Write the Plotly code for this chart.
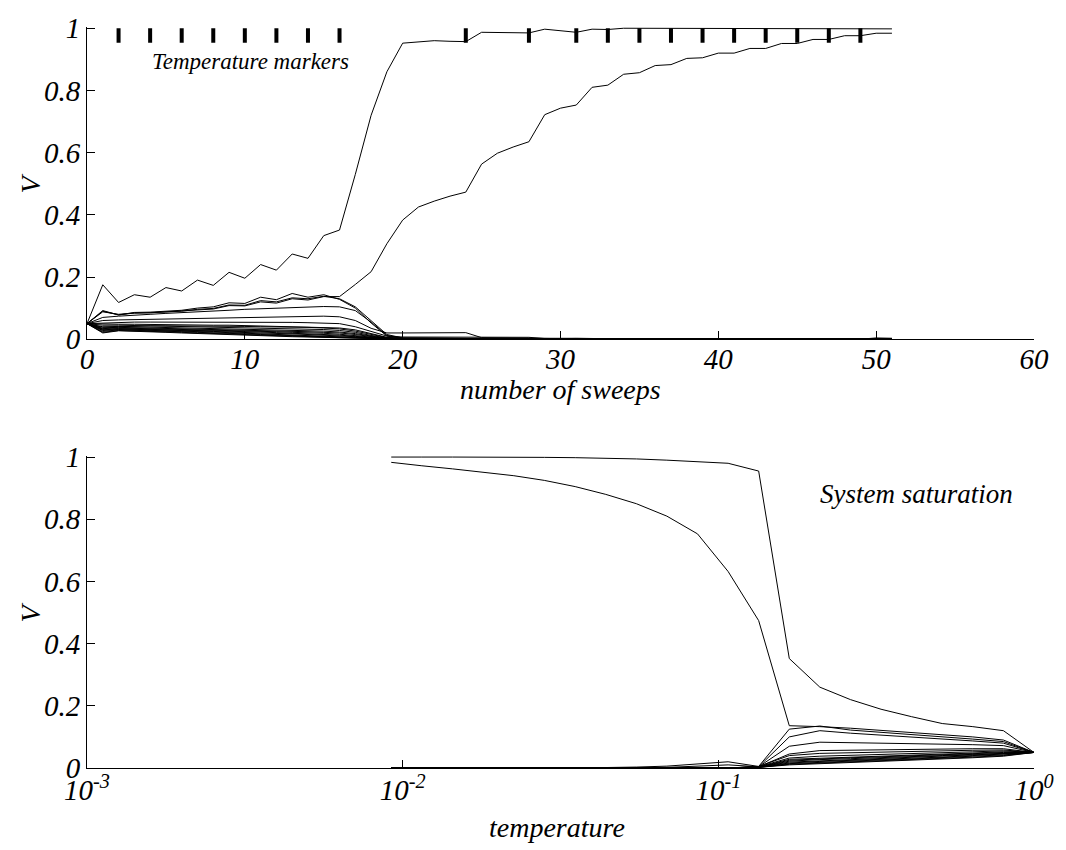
import plotly.graph_objects as go

# ---------------- top panel data (V vs number of sweeps) ----------------
SWEEPS_FULL = list(range(52))
CURVE_A = [0.05, 0.175, 0.118, 0.143, 0.135, 0.166, 0.155, 0.19, 0.173, 0.215,
           0.196, 0.24, 0.222, 0.274, 0.26, 0.333, 0.351, 0.53, 0.72, 0.86,
           0.952, 0.957, 0.96, 0.958, 0.957, 0.987, 0.986, 0.985, 0.985, 0.997,
           0.992, 0.987, 0.997, 0.996, 1.0, 1.0, 1.0, 1.0, 1.0, 1.0,
           1.0, 1.0, 1.0, 1.0, 1.0, 1.0, 1.0, 1.0, 1.0, 1.0,
           0.999, 0.998]
CURVE_B = [0.05, 0.09, 0.078, 0.084, 0.085, 0.088, 0.09, 0.095, 0.097, 0.108,
           0.107, 0.12, 0.116, 0.13, 0.126, 0.137, 0.137, 0.176, 0.217, 0.307,
           0.383, 0.425, 0.444, 0.46, 0.473, 0.563, 0.598, 0.618, 0.635, 0.722,
           0.743, 0.753, 0.81, 0.817, 0.852, 0.857, 0.88, 0.883, 0.903, 0.905,
           0.92, 0.92, 0.935, 0.935, 0.951, 0.951, 0.964, 0.964, 0.976, 0.976,
           0.984, 0.984]

SWEEPS_GRID = [0, 1, 2, 3, 4, 5, 6, 7, 8, 9, 10, 11, 12, 13, 14, 15, 16, 17, 18, 19, 20,
               24, 25, 28, 29, 31, 35, 49, 50, 51]
TAIL0 = [0, 0, 0, 0, 0, 0, 0, 0, 0]
SWEEP_CLUSTER = [
    [0.05, 0.092, 0.078, 0.086, 0.087, 0.091, 0.093, 0.1, 0.104, 0.117, 0.115, 0.135, 0.127, 0.147, 0.135, 0.143, 0.128, 0.1, 0.052, 0.01, 0.003] + [0.002, 0.001, 0, 0, 0, 0, 0, 0, 0],
    [0.05, 0.088, 0.08, 0.084, 0.085, 0.088, 0.09, 0.096, 0.099, 0.11, 0.109, 0.124, 0.12, 0.133, 0.13, 0.138, 0.13, 0.104, 0.06, 0.015, 0.004] + [0.003, 0.001, 0, 0, 0, 0, 0, 0, 0],
    [0.05, 0.07, 0.074, 0.078, 0.08, 0.083, 0.085, 0.088, 0.09, 0.093, 0.096, 0.098, 0.1, 0.102, 0.104, 0.105, 0.104, 0.092, 0.055, 0.012, 0.003] + [0.002, 0.001, 0, 0, 0, 0, 0, 0, 0],
    [0.05, 0.06, 0.062, 0.063, 0.064, 0.064, 0.065, 0.066, 0.066, 0.067, 0.068, 0.069, 0.07, 0.071, 0.073, 0.074, 0.072, 0.06, 0.035, 0.02, 0.02] + [0.021, 0.005, 0.003, 0.001, 0.002, 0, 0, 0.004, 0.003],
    [0.05, 0.052, 0.054, 0.055, 0.055, 0.055, 0.055, 0.056, 0.056, 0.056, 0.056, 0.055, 0.055, 0.054, 0.053, 0.052, 0.05, 0.04, 0.025, 0.01, 0.007] + [0.007, 0.007, 0.006, 0.002, 0.003, 0, 0, 0, 0],
    [0.05, 0.048, 0.048, 0.048, 0.047, 0.047, 0.046, 0.046, 0.045, 0.045, 0.044, 0.043, 0.042, 0.041, 0.04, 0.039, 0.036, 0.03, 0.018, 0.006, 0.003] + [0.002, 0.001, 0, 0, 0.001, 0, 0, 0, 0],
    [0.05, 0.033, 0.04, 0.042, 0.043, 0.043, 0.043, 0.043, 0.042, 0.042, 0.041, 0.04, 0.04, 0.039, 0.038, 0.036, 0.033, 0.026, 0.015, 0.005, 0.003] + [0.002, 0.001, 0, 0, 0, 0, 0, 0, 0],
    [0.05, 0.045, 0.045, 0.044, 0.043, 0.042, 0.041, 0.04, 0.039, 0.038, 0.037, 0.036, 0.035, 0.034, 0.032, 0.031, 0.028, 0.022, 0.012, 0.004, 0.002] + [0.001, 0.001, 0, 0, 0, 0, 0, 0, 0],
    [0.05, 0.04, 0.041, 0.04, 0.039, 0.038, 0.037, 0.036, 0.035, 0.034, 0.033, 0.032, 0.031, 0.029, 0.028, 0.026, 0.023, 0.018, 0.01, 0.003, 0.001] + TAIL0,
    [0.05, 0.038, 0.038, 0.037, 0.036, 0.035, 0.034, 0.033, 0.032, 0.03, 0.029, 0.028, 0.027, 0.025, 0.024, 0.022, 0.02, 0.015, 0.008, 0.002, 0.001] + TAIL0,
    [0.05, 0.035, 0.036, 0.035, 0.034, 0.033, 0.032, 0.031, 0.029, 0.028, 0.027, 0.025, 0.024, 0.022, 0.021, 0.019, 0.016, 0.012, 0.006, 0.002, 0.001] + TAIL0,
    [0.05, 0.032, 0.034, 0.033, 0.032, 0.031, 0.03, 0.029, 0.027, 0.026, 0.024, 0.023, 0.021, 0.019, 0.018, 0.016, 0.013, 0.009, 0.005, 0.001, 0] + TAIL0,
    [0.05, 0.03, 0.033, 0.032, 0.031, 0.029, 0.028, 0.026, 0.025, 0.023, 0.022, 0.02, 0.019, 0.017, 0.015, 0.013, 0.011, 0.008, 0.004, 0.001, 0] + TAIL0,
    [0.05, 0.028, 0.031, 0.03, 0.029, 0.027, 0.026, 0.024, 0.023, 0.021, 0.019, 0.018, 0.016, 0.014, 0.012, 0.011, 0.009, 0.006, 0.003, 0.001, 0] + TAIL0,
    [0.05, 0.025, 0.03, 0.029, 0.027, 0.026, 0.024, 0.022, 0.021, 0.019, 0.017, 0.015, 0.013, 0.012, 0.01, 0.009, 0.007, 0.005, 0.002, 0.001, 0] + TAIL0,
    [0.05, 0.022, 0.028, 0.027, 0.025, 0.024, 0.022, 0.02, 0.019, 0.017, 0.015, 0.013, 0.011, 0.01, 0.008, 0.007, 0.005, 0.004, 0.002, 0, 0] + TAIL0,
    [0.05, 0.02, 0.027, 0.026, 0.024, 0.022, 0.02, 0.018, 0.016, 0.014, 0.012, 0.011, 0.009, 0.008, 0.007, 0.006, 0.004, 0.003, 0.001, 0, 0] + TAIL0,
]
MARKER_SWEEPS = [2, 4, 6, 8, 10, 12, 14, 16, 24, 28, 31, 33, 35, 37, 39, 41, 43, 45, 47, 49]

# ---------------- bottom panel data (V vs temperature) ----------------
TEMPS = [1.0, 0.8, 0.64, 0.512, 0.4096, 0.3277, 0.2621, 0.2097, 0.1678, 0.1342, 0.1074,
         0.0859, 0.0687, 0.055, 0.044, 0.0352, 0.0281, 0.0225, 0.018, 0.0144, 0.0115, 0.0092]
TEMP_CURVE_1 = [0.05, 0.12, 0.133, 0.143, 0.165, 0.189, 0.22, 0.26, 0.352, 0.955, 0.98,
                0.986, 0.99, 0.994, 0.997, 0.998, 0.999, 1.0, 1.0, 1.0, 1.0, 1.0]
TEMP_CURVE_2 = [0.05, 0.09, 0.1, 0.107, 0.115, 0.122, 0.128, 0.133, 0.136, 0.474, 0.632,
                0.753, 0.81, 0.85, 0.88, 0.905, 0.925, 0.94, 0.952, 0.962, 0.972, 0.983]
Z12 = [0, 0, 0, 0, 0, 0, 0, 0, 0, 0, 0, 0]
TEMP_CLUSTER = [
    [0.05, 0.085, 0.093, 0.1, 0.107, 0.114, 0.122, 0.135, 0.125, 0.005] + Z12,
    [0.05, 0.08, 0.087, 0.093, 0.099, 0.105, 0.112, 0.12, 0.1, 0.004] + Z12,
    [0.05, 0.072, 0.075, 0.077, 0.079, 0.08, 0.082, 0.083, 0.07, 0.004] + Z12,
    [0.05, 0.062, 0.062, 0.061, 0.06, 0.059, 0.058, 0.056, 0.045, 0.004] + Z12,
    [0.05, 0.058, 0.057, 0.055, 0.053, 0.051, 0.049, 0.047, 0.04, 0.005, 0.02, 0.012, 0.006, 0.003, 0.001, 0, 0, 0, 0, 0, 0, 0],
    [0.05, 0.055, 0.052, 0.049, 0.046, 0.044, 0.041, 0.038, 0.032, 0.004, 0.01, 0.005, 0.002, 0, 0, 0, 0, 0, 0, 0, 0, 0],
    [0.05, 0.052, 0.048, 0.045, 0.042, 0.039, 0.036, 0.033, 0.028, 0.003] + Z12,
    [0.05, 0.05, 0.046, 0.042, 0.039, 0.036, 0.033, 0.03, 0.025, 0.003] + Z12,
    [0.05, 0.048, 0.044, 0.04, 0.036, 0.033, 0.03, 0.027, 0.022, 0.003] + Z12,
    [0.05, 0.046, 0.042, 0.038, 0.034, 0.031, 0.027, 0.024, 0.019, 0.003] + Z12,
    [0.05, 0.044, 0.04, 0.035, 0.032, 0.028, 0.025, 0.021, 0.016, 0.003] + Z12,
    [0.05, 0.042, 0.038, 0.033, 0.029, 0.026, 0.022, 0.019, 0.014, 0.002] + Z12,
    [0.05, 0.04, 0.035, 0.031, 0.027, 0.023, 0.02, 0.017, 0.012, 0.002] + Z12,
    [0.05, 0.038, 0.033, 0.029, 0.025, 0.021, 0.018, 0.015, 0.01, 0.002] + Z12,
]

Y_TICKS = [0, 0.2, 0.4, 0.6, 0.8, 1]
Y_TICKTEXT = ["0", "0.2", "0.4", "0.6", "0.8", "1"]
SWEEP_TICKS = [0, 10, 20, 30, 40, 50, 60]
SWEEP_TICKTEXT = ["0", "10", "20", "30", "40", "50", "60"]
TEMP_TICKS = [0.001, 0.01, 0.1, 1]
TEMP_TICKTEXT = ["10<sup>-3</sup>", "10<sup>-2</sup>", "10<sup>-1</sup>", "10<sup>0</sup>"]

FONT = "Liberation Serif"
LINE = dict(color="black", width=1)

fig = go.Figure()

# top panel
for ys in SWEEP_CLUSTER:
    fig.add_trace(go.Scatter(x=SWEEPS_GRID, y=ys, mode="lines", line=LINE,
                             xaxis="x", yaxis="y", showlegend=False, hoverinfo="skip"))
fig.add_trace(go.Scatter(x=SWEEPS_FULL, y=CURVE_B, mode="lines", line=LINE,
                         xaxis="x", yaxis="y", showlegend=False))
fig.add_trace(go.Scatter(x=SWEEPS_FULL, y=CURVE_A, mode="lines", line=LINE,
                         xaxis="x", yaxis="y", showlegend=False))
mx, my = [], []
for s in MARKER_SWEEPS:
    mx += [s, s, None]
    my += [0.953, 1.0, None]
fig.add_trace(go.Scatter(x=mx, y=my, mode="lines", line=dict(color="black", width=4),
                         xaxis="x", yaxis="y", showlegend=False, hoverinfo="skip"))

# bottom panel
for ys in TEMP_CLUSTER:
    fig.add_trace(go.Scatter(x=TEMPS, y=ys, mode="lines", line=LINE,
                             xaxis="x2", yaxis="y2", showlegend=False, hoverinfo="skip"))
fig.add_trace(go.Scatter(x=TEMPS, y=TEMP_CURVE_2, mode="lines", line=LINE,
                         xaxis="x2", yaxis="y2", showlegend=False))
fig.add_trace(go.Scatter(x=TEMPS, y=TEMP_CURVE_1, mode="lines", line=LINE,
                         xaxis="x2", yaxis="y2", showlegend=False))


def italic_ticks(texts):
    return ["<i>" + t + "</i>" for t in texts]


tickfont = dict(family=FONT, size=29, color="black")
axis_common = dict(showline=True, linecolor="black", linewidth=1, mirror=False,
                   ticks="inside", ticklen=8, tickcolor="black", tickwidth=1,
                   showgrid=False, zeroline=False, tickfont=tickfont)


def label(text, x, y, angle=0, size=28, anchor="center"):
    return dict(text="<i>" + text + "</i>", x=x, y=y, xref="paper", yref="paper",
                xanchor=anchor, yanchor="middle", showarrow=False, textangle=angle,
                font=dict(family=FONT, size=size, color="black"))


fig.update_layout(
    width=1066, height=850,
    margin=dict(l=87, r=26, t=18, b=82),
    paper_bgcolor="white", plot_bgcolor="white",
    font=dict(family=FONT, color="black"),
    xaxis=dict(domain=[0, 1], anchor="y", range=[0, 60], tickvals=SWEEP_TICKS,
               ticktext=italic_ticks(SWEEP_TICKTEXT), ticklabelstandoff=-6, **axis_common),
    yaxis=dict(domain=[0.5787, 1], anchor="x", range=[0, 1.004], tickvals=Y_TICKS,
               ticktext=italic_ticks(Y_TICKTEXT), **axis_common),
    xaxis2=dict(domain=[0, 1], anchor="y2", type="log", range=[-3, 0], tickvals=TEMP_TICKS,
                ticktext=italic_ticks(TEMP_TICKTEXT), ticklabelstandoff=-4, **axis_common),
    yaxis2=dict(domain=[0, 0.4213], anchor="x2", range=[0, 1.004], tickvals=Y_TICKS,
                ticktext=italic_ticks(Y_TICKTEXT), **axis_common),
    annotations=[
        dict(text="<i>Temperature markers</i>", x=4, y=0.893, xref="x", yref="y",
             xanchor="left", yanchor="middle", showarrow=False,
             font=dict(family=FONT, size=23, color="black")),
        dict(text="<i>System saturation</i>", x=-0.06, y=0.88, xref="x2", yref="y2",
             xanchor="right", yanchor="middle", showarrow=False,
             font=dict(family=FONT, size=27, color="black")),
        label("number of sweeps", 0.4995, 0.5107),
        label("temperature", 0.496, -0.08),
        label("V", -0.06, 0.789, angle=-90),
        label("V", -0.06, 0.21, angle=-90),
    ],
)

fig.write_html("out.html")
